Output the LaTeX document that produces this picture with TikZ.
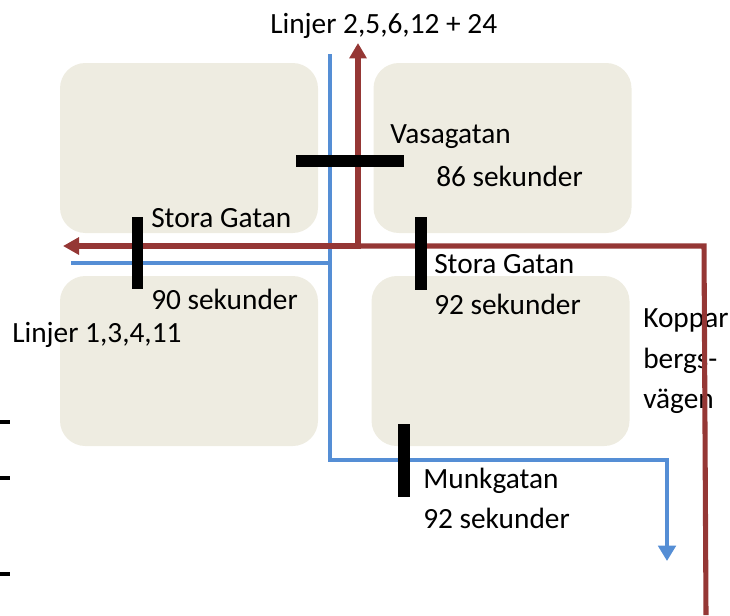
\documentclass[tikz,border=0pt]{standalone}
\usepackage{fontspec}
\setmainfont{Carlito}
\usetikzlibrary{arrows.meta}
\definecolor{blockfill}{HTML}{EEECE1}
\definecolor{lineblue}{HTML}{558ED5}
\definecolor{linered}{HTML}{953735}
\begin{document}
\begin{tikzpicture}[x=0.75pt,y=-0.75pt,
  block/.style={fill=blockfill, draw=none, rounded corners=19pt, inner sep=0pt, outer sep=0pt,
                minimum width=193.5pt, minimum height=127.5pt},
  lbl/.style={anchor=base west, inner sep=0pt, font=\fontsize{22}{26}\selectfont},
  blueline/.style={draw=lineblue, line width=3.6pt},
  redline/.style={draw=linered, line width=3.8pt},
  bar/.style={draw=black, line width=8.5pt},
  tick/.style={draw=black, line width=2.5pt},
  tipend/.style={-{Triangle[width=13pt,length=11.5pt]}},
  tipboth/.style={{Triangle[width=12.5pt,length=12pt]}-{Triangle[width=12.5pt,length=11.5pt]}}
]
\useasboundingbox (0,0) rectangle (730,615);

% blocks
\node[block] (tl) at (189,148) {};
\node[block] (tr) at (502.5,148) {};
\node[block] (bl) at (189,361) {};
\node[block] (br) at (500.5,361) {};

% left ticks
\coordinate (t1a) at (0,422); \coordinate (t1b) at (10,422);
\coordinate (t2a) at (0,478); \coordinate (t2b) at (10,478);
\coordinate (t3a) at (0,574); \coordinate (t3b) at (10,574);
\draw[tick] (t1a) -- (t1b);
\draw[tick] (t2a) -- (t2b);
\draw[tick] (t3a) -- (t3b);

% labels
\node[lbl] (ltop) at (270,33) {Linjer 2,5,6,12 + 24};
\node[lbl] (vasa) at (390,143) {Vasagatan};
\node[lbl] (s86) at (436,186) {86 sekunder};
\node[lbl] (sgl) at (151,227) {Stora Gatan};
\node[lbl] (s90) at (151,309) {90 sekunder};
\node[lbl] (lleft) at (12,342) {Linjer 1,3,4,11};
\node[lbl] (sgr) at (434,273) {Stora Gatan};
\node[lbl] (s92a) at (434,314) {92 sekunder};
\node[lbl] (kop1) at (643,327) {Koppar};
\node[lbl] (kop2) at (643,368) {bergs-};
\node[lbl] (kop3) at (643,408) {vägen};
\node[lbl] (munk) at (423,488) {Munkgatan};
\node[lbl] (s92b) at (423,528) {92 sekunder};

% blue lines
\coordinate (b1) at (330,54);
\coordinate (bj) at (330,263);
\coordinate (b2) at (330,460);
\coordinate (b3) at (667,460);
\coordinate (b4) at (667,561);
\coordinate (b5) at (71,263);
\draw[blueline, tipend] (b1) -- (b2) -- (b3) -- (b4);
\draw[blueline] (b5) -- (bj);

% red lines
\coordinate (r0) at (358,43);
\coordinate (r1) at (358,246);
\coordinate (rl) at (63,246);
\coordinate (r2) at (704,246);
\coordinate (r3) at (706,615);
\draw[redline, tipboth] (rl) -- (r1) -- (r0);
\draw[redline] (r1) -- (r2) -- (r3);

% bars
\coordinate (va) at (296,161); \coordinate (vb) at (404,161);
\coordinate (sra) at (421,217); \coordinate (srb) at (421,290);
\coordinate (sla) at (137.5,217); \coordinate (slb) at (137.5,289);
\coordinate (ma) at (404,424); \coordinate (mb) at (404,497);
\draw[bar] (va) -- (vb);
\draw[bar] (sra) -- (srb);
\draw[bar] (sla) -- (slb);
\draw[bar] (ma) -- (mb);
\end{tikzpicture}
\end{document}
